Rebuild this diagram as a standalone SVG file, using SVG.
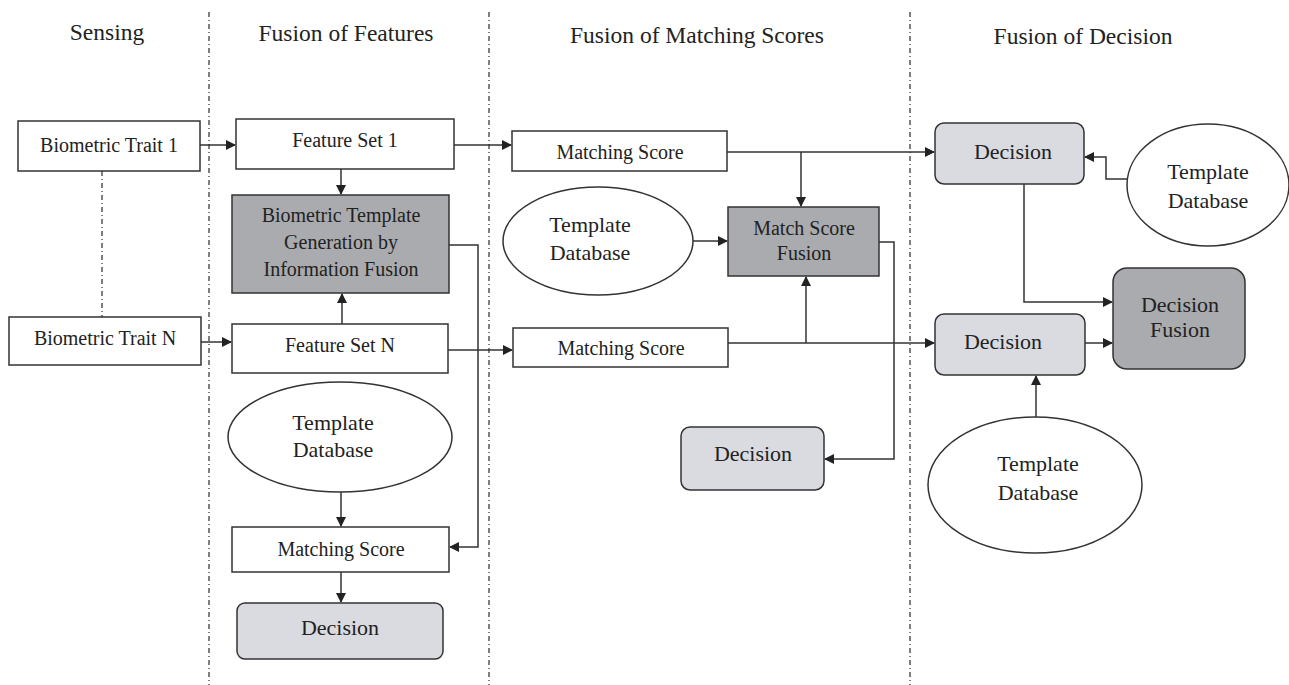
<svg xmlns="http://www.w3.org/2000/svg" width="1289" height="685" viewBox="0 0 1289 685">
<style>
text{font-family:"Liberation Serif","Times New Roman",serif;fill:#222;text-anchor:middle}
.h{font-size:23.5px}
.t{font-size:20px}
.tl{font-size:22px}
.box{fill:#fff;stroke:#333;stroke-width:1.5}
.dark{fill:#a9abae;stroke:#333;stroke-width:1.5}
.light{fill:#d9dbe1;stroke:#333;stroke-width:1.5}
.ell{fill:#fff;stroke:#333;stroke-width:1.5}
.c{fill:none;stroke:#333;stroke-width:1.5}
.div{fill:none;stroke:#555;stroke-width:1.5;stroke-dasharray:5,3,1,3}
</style>
<defs>
<marker id="a" markerWidth="10" markerHeight="10" refX="9" refY="5" orient="auto" markerUnits="userSpaceOnUse">
<path d="M0,0 L10,5 L0,10 z" fill="#222"/>
</marker>
</defs>
<rect width="1289" height="685" fill="#fff"/>
<g id="dividers">
<line class="div" x1="209" y1="12" x2="209" y2="685"/>
<line class="div" x1="489" y1="12" x2="489" y2="685"/>
<line class="div" x1="910" y1="12" x2="910" y2="685"/>
<line class="div" x1="102" y1="171" x2="102" y2="317"/>
</g>
<g id="headers">
<text class="h" x="107" y="40">Sensing</text>
<text class="h" x="346" y="41">Fusion of Features</text>
<text class="h" x="697" y="43">Fusion of Matching Scores</text>
<text class="h" x="1083" y="44">Fusion of Decision</text>
</g>
<g id="connectors">
<line class="c" x1="200" y1="145" x2="235" y2="145" marker-end="url(#a)"/>
<line class="c" x1="201" y1="342" x2="231" y2="342" marker-end="url(#a)"/>
<line class="c" x1="341" y1="169" x2="341" y2="194" marker-end="url(#a)"/>
<line class="c" x1="342" y1="324" x2="342" y2="294" marker-end="url(#a)"/>
<polyline class="c" points="449,245 478,245 478,547 450,547" marker-end="url(#a)"/>
<line class="c" x1="341" y1="492" x2="341" y2="526" marker-end="url(#a)"/>
<line class="c" x1="341" y1="572" x2="341" y2="602" marker-end="url(#a)"/>
<line class="c" x1="454" y1="145" x2="511" y2="145" marker-end="url(#a)"/>
<line class="c" x1="448" y1="350" x2="512" y2="350" marker-end="url(#a)"/>
<line class="c" x1="727" y1="152" x2="934" y2="152" marker-end="url(#a)"/>
<line class="c" x1="801" y1="152" x2="801" y2="206" marker-end="url(#a)"/>
<line class="c" x1="693" y1="241" x2="727" y2="241" marker-end="url(#a)"/>
<line class="c" x1="728" y1="343" x2="934" y2="343" marker-end="url(#a)"/>
<line class="c" x1="806" y1="343" x2="806" y2="277" marker-end="url(#a)"/>
<polyline class="c" points="879,242 894,242 894,459 825,459" marker-end="url(#a)"/>
<polyline class="c" points="1127,179 1106,179 1106,157 1085,157" marker-end="url(#a)"/>
<polyline class="c" points="1024,184 1024,302 1112,302" marker-end="url(#a)"/>
<line class="c" x1="1085" y1="343" x2="1112" y2="343" marker-end="url(#a)"/>
<line class="c" x1="1036" y1="417" x2="1036" y2="376" marker-end="url(#a)"/>
</g>
<g id="trait1"><rect class="box" x="18" y="121" width="182" height="50"/><text class="t" x="109" y="152">Biometric Trait 1</text></g>
<g id="traitN"><rect class="box" x="9" y="317" width="192" height="48"/><text class="t" x="105" y="345">Biometric Trait N</text></g>
<g id="fs1"><rect class="box" x="236" y="119" width="218" height="50"/><text class="t" x="345" y="147">Feature Set 1</text></g>
<g id="btg"><rect class="dark" x="232" y="195" width="217" height="98"/>
<text class="t" x="341" y="222">Biometric Template</text>
<text class="t" x="341" y="249">Generation by</text>
<text class="t" x="341" y="276">Information Fusion</text></g>
<g id="fsN"><rect class="box" x="232" y="324" width="216" height="49"/><text class="t" x="340" y="352">Feature Set N</text></g>
<g id="tdb1"><ellipse class="ell" cx="340" cy="437" rx="112" ry="55"/><text class="tl" x="333" y="430">Template</text><text class="tl" x="333" y="457">Database</text></g>
<g id="ms0"><rect class="box" x="232" y="527" width="217" height="45"/><text class="t" x="341" y="556">Matching Score</text></g>
<g id="dec0"><rect class="light" x="237" y="603" width="206" height="56" rx="8"/><text class="tl" x="340" y="635">Decision</text></g>
<g id="ms1"><rect class="box" x="512" y="131" width="215" height="40"/><text class="t" x="620" y="159">Matching Score</text></g>
<g id="tdb2"><ellipse class="ell" cx="598" cy="241" rx="95" ry="54"/><text class="tl" x="590" y="232">Template</text><text class="tl" x="590" y="260">Database</text></g>
<g id="msf"><rect class="dark" x="728" y="207" width="151" height="69"/><text class="t" x="804" y="235">Match Score</text><text class="t" x="804" y="260">Fusion</text></g>
<g id="msN"><rect class="box" x="513" y="328" width="215" height="39"/><text class="t" x="621" y="355">Matching Score</text></g>
<g id="dec1"><rect class="light" x="681" y="427" width="143" height="63" rx="9"/><text class="tl" x="753" y="461">Decision</text></g>
<g id="decA"><rect class="light" x="935" y="123" width="149" height="61" rx="9"/><text class="tl" x="1013" y="159">Decision</text></g>
<g id="tdb3"><ellipse class="ell" cx="1208" cy="185" rx="81" ry="61"/><text class="tl" x="1208" y="179">Template</text><text class="tl" x="1208" y="208">Database</text></g>
<g id="df"><rect class="dark" x="1113" y="268" width="132" height="101" rx="14"/><text class="tl" x="1180" y="312">Decision</text><text class="tl" x="1180" y="337">Fusion</text></g>
<g id="decB"><rect class="light" x="935" y="314" width="150" height="61" rx="9"/><text class="tl" x="1003" y="349">Decision</text></g>
<g id="tdb4"><ellipse class="ell" cx="1035" cy="485" rx="107" ry="68"/><text class="tl" x="1038" y="471">Template</text><text class="tl" x="1038" y="500">Database</text></g>
</svg>
